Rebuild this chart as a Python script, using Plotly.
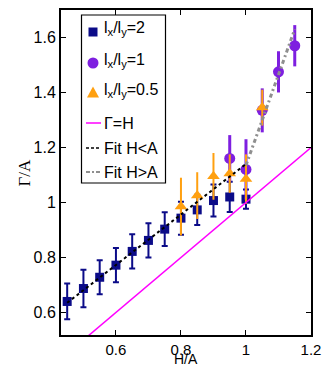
import plotly.graph_objects as go

# ---- data ----
x_sq = [0.45, 0.5, 0.55, 0.6, 0.65, 0.7, 0.75, 0.8, 0.85, 0.9, 0.95, 1.0]
y_sq = [0.64, 0.687, 0.728, 0.772, 0.822, 0.862, 0.903, 0.943, 0.973, 1.007, 1.02, 1.012]
e_sq = [0.065, 0.068, 0.062, 0.062, 0.062, 0.062, 0.061, 0.06, 0.055, 0.058, 0.055, 0.035]

x_ci = [0.95, 1.0, 1.05, 1.1, 1.15]
y_ci = [1.16, 1.12, 1.335, 1.475, 1.57]
e_ci = [0.085, 0.11, 0.08, 0.075, 0.075]

x_tr = [0.8, 0.85, 0.9, 0.95, 1.0, 1.05]
y_tr = [0.985, 1.025, 1.095, 1.105, 1.085, 1.345]
e_tr = [0.105, 0.085, 0.085, 0.07, 0.09, 0.065]

x_gh = [0.5, 1.2]
x_fit1 = [0.45, 1.0]
y_fit1 = [0.635, 1.14]
x_fit2 = [1.0, 1.15]
y_fit2 = [1.135, 1.63]

xticks = [0.6, 0.8, 1.0, 1.2]
xticklabels = ["0.6", "0.8", "1", "1.2"]
yticks = [0.6, 0.8, 1.0, 1.2, 1.4, 1.6]
yticklabels = ["0.6", "0.8", "1", "1.2", "1.4", "1.6"]

legend_labels = ["l<sub>x</sub>/l<sub>y</sub>=2", "l<sub>x</sub>/l<sub>y</sub>=1",
                 "l<sub>x</sub>/l<sub>y</sub>=0.5", "Γ=H", "Fit H<A", "Fit H>A"]

NAVY = "#0b0b88"
PURPLE = "#7e1fe0"
ORANGE = "#ffa010"
MAGENTA = "#ff00ff"
GRAY = "#8f8f8f"
FONT = "Liberation Sans, Arial"

W, H = 323, 369
ML, MR, MT, MB = 61, 12, 10, 34
PW, PH = W - ML - MR, H - MT - MB


def px(xp):
    return (xp - ML) / PW


def py(yp):
    return (H - MB - yp) / PH


fig = go.Figure()
fig.add_trace(go.Scatter(
    x=x_sq, y=y_sq, mode="markers", name=legend_labels[0], showlegend=False,
    marker=dict(symbol="square", size=9, color=NAVY),
    error_y=dict(type="data", array=e_sq, color=NAVY, thickness=2, width=3)))
fig.add_trace(go.Scatter(
    x=x_ci, y=y_ci, mode="markers", name=legend_labels[1], showlegend=False,
    marker=dict(symbol="circle", size=11, color=PURPLE),
    error_y=dict(type="data", array=e_ci, color=PURPLE, thickness=3, width=0)))
fig.add_trace(go.Scatter(
    x=x_tr, y=y_tr, mode="markers", name=legend_labels[2], showlegend=False,
    marker=dict(symbol="triangle-up", size=11, color=ORANGE),
    error_y=dict(type="data", array=e_tr, color=ORANGE, thickness=2, width=0)))
fig.add_trace(go.Scatter(
    x=x_gh, y=x_gh, mode="lines", name=legend_labels[3], showlegend=False,
    line=dict(color=MAGENTA, width=1.5)))
fig.add_trace(go.Scatter(
    x=x_fit1, y=y_fit1, mode="lines", name=legend_labels[4], showlegend=False,
    line=dict(color="black", width=2, dash="3px,3px")))
fig.add_trace(go.Scatter(
    x=x_fit2, y=y_fit2, mode="lines", name=legend_labels[5], showlegend=False,
    line=dict(color=GRAY, width=3, dash="4px,3px,2px,3px")))

axis_common = dict(
    showgrid=False, zeroline=False, showline=True, linecolor="black", linewidth=2,
    mirror="ticks", ticks="inside", ticklen=5, tickcolor="black", tickwidth=1,
    automargin=False,
)
fig.update_xaxes(range=[0.431, 1.2], tickvals=xticks, ticktext=xticklabels,
                 ticklabelstandoff=0, tickfont=dict(family=FONT, size=15, color="black"),
                 **axis_common)
fig.update_yaxes(range=[0.518, 1.70], tickvals=yticks, ticktext=yticklabels,
                 tickfont=dict(family=FONT, size=16, color="black"), **axis_common)

shapes = []
annotations = []

# axis titles
annotations.append(dict(text="H/A", xref="paper", yref="paper", x=px(186), y=py(369),
                        xanchor="center", yanchor="bottom", showarrow=False,
                        font=dict(family=FONT, size=14, color="black")))
annotations.append(dict(text="Γ/A", xref="paper", yref="paper", x=px(24.5), y=py(173),
                        xanchor="center", yanchor="middle", showarrow=False, textangle=-90,
                        font=dict(family="Liberation Serif, Times New Roman", size=17, color="black")))

# legend box
shapes.append(dict(type="rect", xref="paper", yref="paper", x0=px(81.5), x1=px(165.5),
                   y0=py(15), y1=py(183), line=dict(color="black", width=1.2),
                   fillcolor="white", layer="above"))

row_y = [32, 63, 93, 123, 148, 172]
mx = 93
# marker keys
shapes.append(dict(type="rect", xref="paper", yref="paper", xsizemode="pixel", ysizemode="pixel",
                   xanchor=px(mx), yanchor=py(row_y[0]), x0=-4.5, x1=4.5, y0=-4.5, y1=4.5,
                   line=dict(width=0), fillcolor=NAVY, layer="above"))
shapes.append(dict(type="circle", xref="paper", yref="paper", xsizemode="pixel", ysizemode="pixel",
                   xanchor=px(mx), yanchor=py(row_y[1]), x0=-5.5, x1=5.5, y0=-5.5, y1=5.5,
                   line=dict(width=0), fillcolor=PURPLE, layer="above"))
tx, ty = px(mx), py(row_y[2])
shapes.append(dict(type="path", xref="paper", yref="paper", xsizemode="pixel", ysizemode="pixel",
                   xanchor=tx, yanchor=ty, path="M -6,-4.5 L 6,-4.5 L 0,6.5 Z",
                   line=dict(width=0), fillcolor=ORANGE, layer="above"))
# line keys
line_styles = [dict(color=MAGENTA, width=1.5), dict(color="black", width=1.5, dash="3px,2px"),
               dict(color=GRAY, width=2, dash="4px,2px,2px,2px")]
for i, ls in enumerate(line_styles):
    yy = py(row_y[3 + i])
    shapes.append(dict(type="line", xref="paper", yref="paper", x0=px(86), x1=px(101),
                       y0=yy, y1=yy, line=ls, layer="above"))

for i, lab in enumerate(legend_labels):
    annotations.append(dict(text=lab, xref="paper", yref="paper", x=px(102), y=py(row_y[i] - (3 if i < 3 else 0)),
                            xanchor="left", yanchor="middle", showarrow=False,
                            font=dict(family=FONT, size=16, color="black")))

fig.update_layout(
    width=W, height=H,
    margin=dict(l=ML, r=MR, t=MT, b=MB),
    paper_bgcolor="white", plot_bgcolor="white",
    showlegend=False,
    shapes=shapes, annotations=annotations,
)
fig.write_html("out.html")
